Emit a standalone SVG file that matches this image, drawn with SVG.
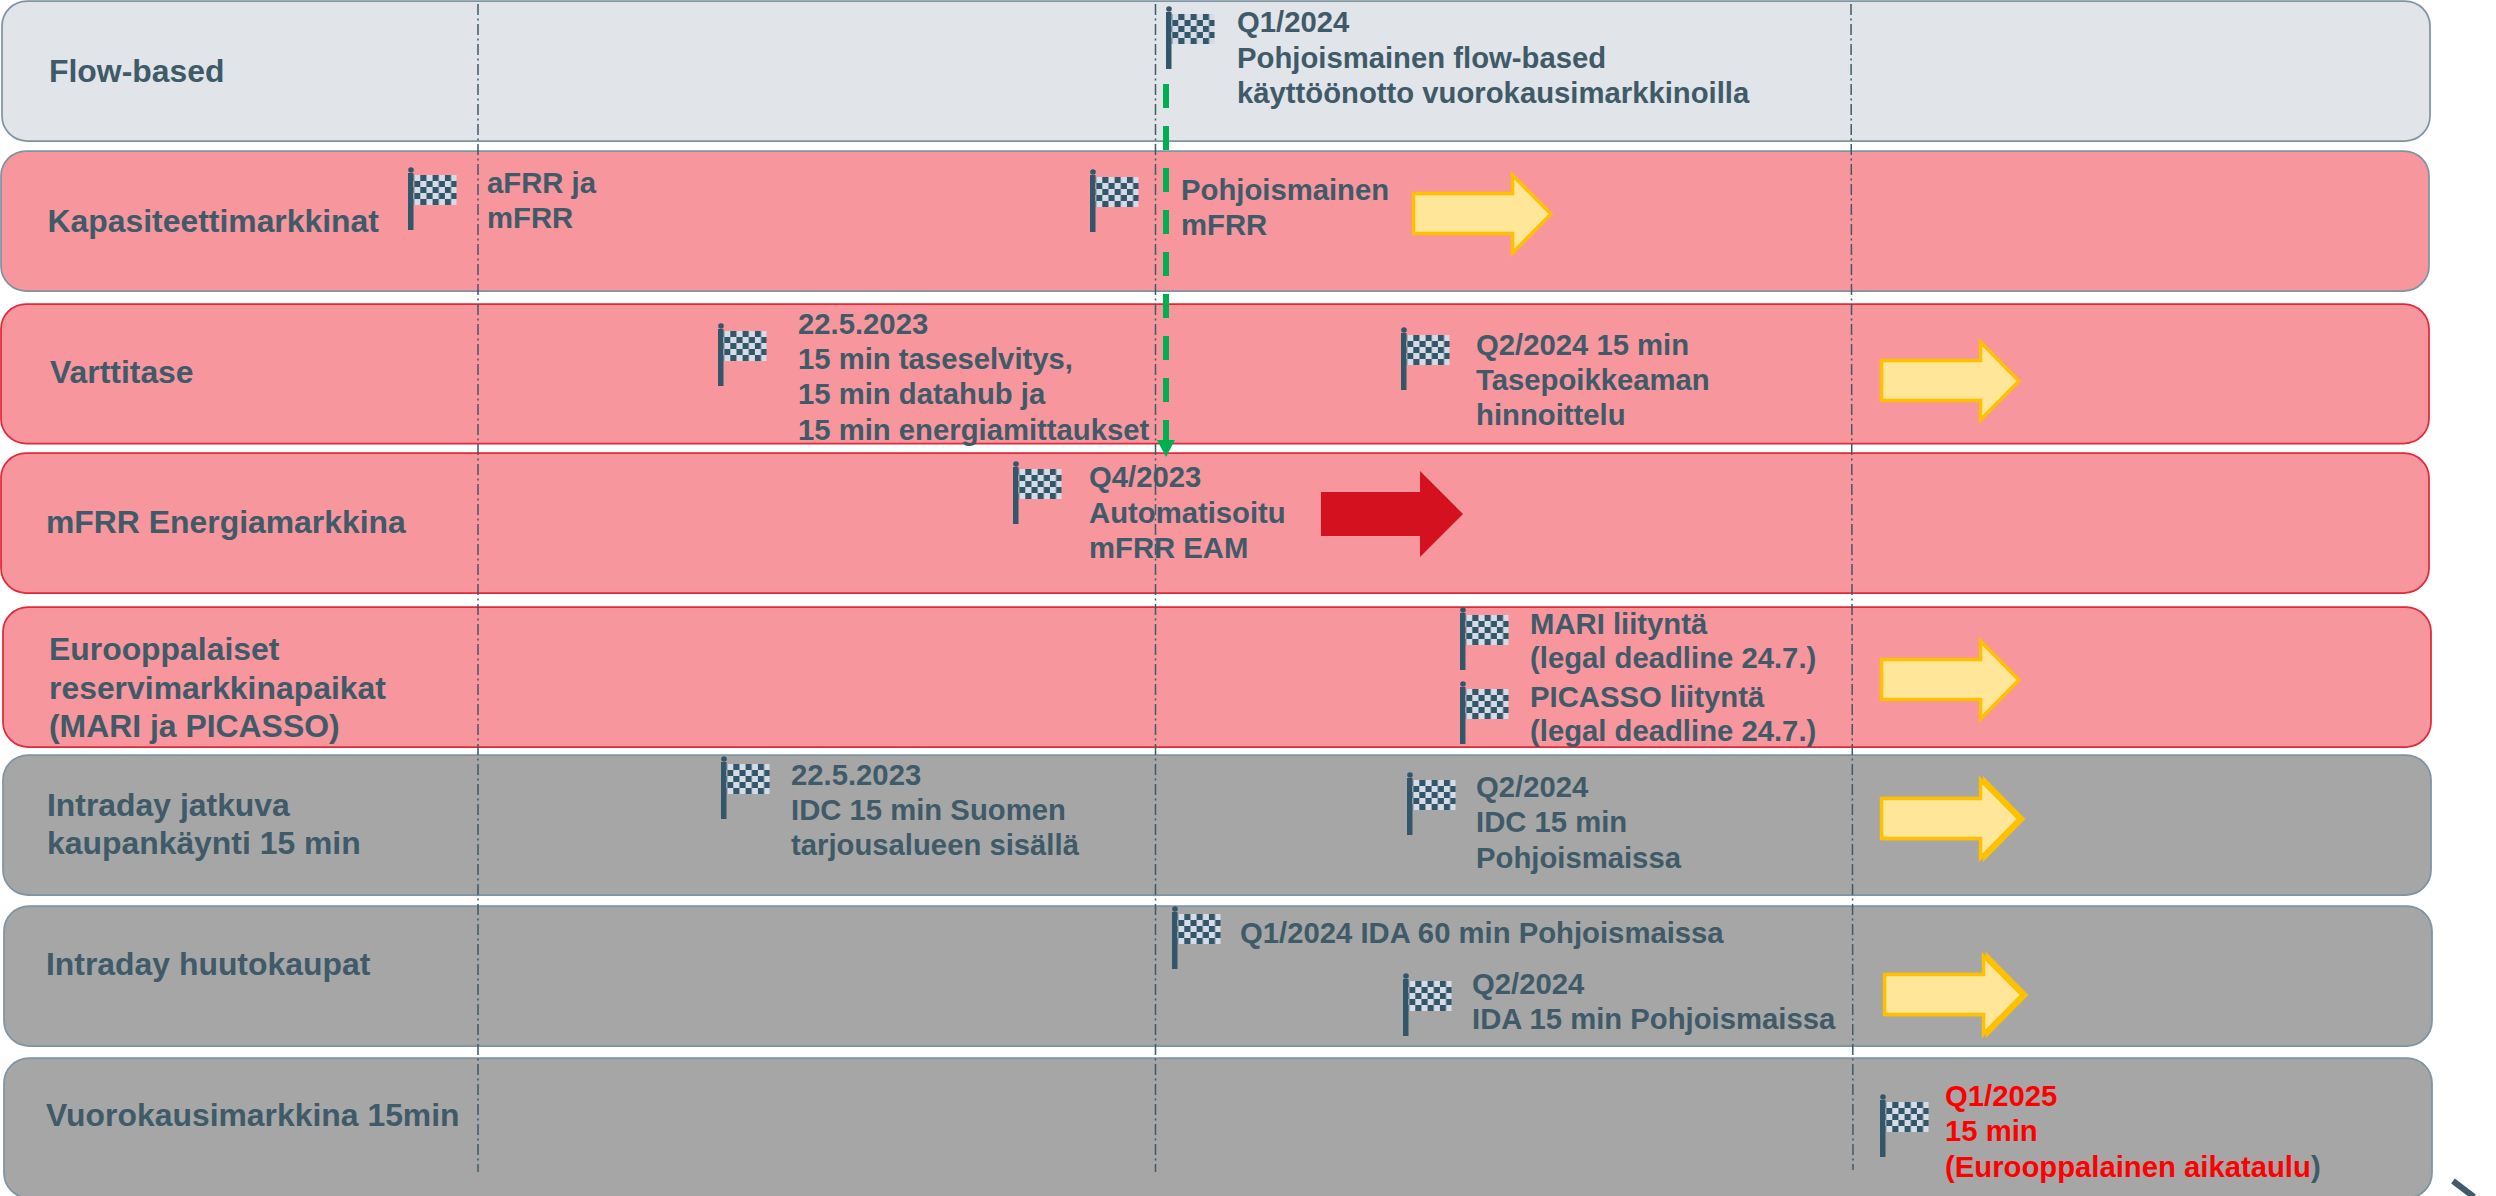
<svg xmlns="http://www.w3.org/2000/svg" xmlns:xlink="http://www.w3.org/1999/xlink" width="2496" height="1196" viewBox="0 0 2496 1196">
<style>
text{font-family:"Liberation Sans",Arial,sans-serif;font-weight:700;fill:#3f5a68}
.l{font-size:31.9px}.t{font-size:29.27px}.r{fill:#ff0000}
.band{stroke-width:1.75}
.g{fill:#e1e5e9;stroke:#7f94a3}.p{fill:#f7969d;stroke:#7f94a3}.pr{fill:#f7969d;stroke:#e3283a}.k{fill:#a6a6a6;stroke:#7f94a3}
.ya{fill:#ffe699;stroke:#ffc000;stroke-width:3.5}
.v{stroke:#3f5a68;stroke-width:1.5;stroke-dasharray:11 3.5 2 3.5;fill:none}
</style>
<defs>
<pattern id="chk" width="12.3" height="12" patternUnits="userSpaceOnUse">
<rect width="12.3" height="12" fill="#d6dce5"/>
<rect width="6.15" height="6" fill="#34566a"/><rect x="6.15" y="6" width="6.15" height="6" fill="#34566a"/>
</pattern>
<g id="flag">
<circle cx="3" cy="-5" r="2.8" fill="#34566a"/>
<rect x="0" y="-2" width="5.5" height="57" fill="#34566a"/>
<rect x="5.5" y="0" width="43" height="30" fill="url(#chk)"/>
</g>
<path id="yarrow" d="M0.5 21.5H99.5V3L138 42L99.5 81V61.5H0.5Z"/>
<marker id="gh" markerUnits="userSpaceOnUse" markerWidth="18" markerHeight="18" refX="17" refY="9" orient="auto"><path d="M0 0L17 9L0 18Z" fill="#00b050"/></marker>
</defs>
<rect width="2496" height="1196" fill="#ffffff"/>
<g id="n1"><rect class="band g" x="2" y="1" width="2428" height="140" rx="25"/><text class="l" x="49" y="82">Flow-based</text>
<use xlink:href="#flag" x="1166" y="14"/><text class="t"><tspan x="1237" y="32">Q1/2024</tspan><tspan x="1237" y="68">Pohjoismainen flow-based</tspan><tspan x="1237" y="103">käyttöönotto vuorokausimarkkinoilla</tspan></text></g>
<g id="n2"><rect class="band p" x="1" y="151" width="2428" height="140" rx="25"/><text class="l" x="47.5" y="232">Kapasiteettimarkkinat</text>
<use xlink:href="#flag" x="408" y="175"/><text class="t"><tspan x="487" y="193">aFRR ja</tspan><tspan x="487" y="228">mFRR</tspan></text>
<use xlink:href="#flag" x="1090" y="177"/><text class="t"><tspan x="1181" y="200">Pohjoismainen</tspan><tspan x="1181" y="235">mFRR</tspan></text>
<use xlink:href="#yarrow" class="ya" x="1413" y="172"/></g>
<g id="n3"><rect class="band pr" x="1" y="304" width="2428" height="139.5" rx="25"/><text class="l" x="50" y="383">Varttitase</text>
<use xlink:href="#flag" x="718" y="331"/><text class="t"><tspan x="798" y="334">22.5.2023</tspan><tspan x="798" y="369">15 min taseselvitys,</tspan><tspan x="798" y="404">15 min datahub ja</tspan><tspan x="798" y="440">15 min energiamittaukset</tspan></text>
<use xlink:href="#flag" x="1401" y="335"/><text class="t"><tspan x="1476" y="355">Q2/2024 15 min</tspan><tspan x="1476" y="390">Tasepoikkeaman</tspan><tspan x="1476" y="425">hinnoittelu</tspan></text>
<use xlink:href="#yarrow" class="ya" x="1881" y="339"/></g>
<g id="n4"><rect class="band pr" x="1" y="453" width="2428" height="140" rx="25"/><text class="l" x="46" y="533">mFRR Energiamarkkina</text>
<use xlink:href="#flag" x="1013" y="469"/><text class="t"><tspan x="1089" y="487">Q4/2023</tspan><tspan x="1089" y="523">Automatisoitu</tspan><tspan x="1089" y="558">mFRR EAM</tspan></text>
<path d="M1321 492H1420V471L1463 514L1420 557V536H1321Z" fill="#d4111e"/></g>
<g id="n5"><rect class="band pr" x="3" y="607" width="2428" height="140" rx="25"/><text class="l"><tspan x="49" y="660">Eurooppalaiset</tspan><tspan x="49" y="699">reservimarkkinapaikat</tspan><tspan x="49" y="737">(MARI ja PICASSO)</tspan></text>
<use xlink:href="#flag" x="1460" y="615"/><text class="t"><tspan x="1530" y="634">MARI liityntä</tspan><tspan x="1530" y="668">(legal deadline 24.7.)</tspan></text>
<use xlink:href="#flag" x="1460" y="689"/><text class="t"><tspan x="1530" y="707">PICASSO liityntä</tspan><tspan x="1530" y="741">(legal deadline 24.7.)</tspan></text>
<use xlink:href="#yarrow" class="ya" x="1881" y="638"/></g>
<g id="n6"><rect class="band k" x="3" y="755" width="2428" height="140" rx="25"/><text class="l"><tspan x="47" y="816">Intraday jatkuva</tspan><tspan x="47" y="854">kaupankäynti 15 min</tspan></text>
<use xlink:href="#flag" x="721" y="764"/><text class="t"><tspan x="791" y="785">22.5.2023</tspan><tspan x="791" y="820">IDC 15 min Suomen</tspan><tspan x="791" y="855">tarjousalueen sisällä</tspan></text>
<use xlink:href="#flag" x="1407" y="780"/><text class="t"><tspan x="1476" y="797">Q2/2024</tspan><tspan x="1476" y="832">IDC 15 min</tspan><tspan x="1476" y="868">Pohjoismaissa</tspan></text>
<use xlink:href="#yarrow" class="ya" x="1885" y="777"/><use xlink:href="#yarrow" class="ya" x="1881" y="777"/></g>
<g id="n7"><rect class="band k" x="4" y="906" width="2428" height="140" rx="25"/><text class="l" x="46" y="975">Intraday huutokaupat</text>
<use xlink:href="#flag" x="1172" y="914"/><text class="t" x="1240" y="943">Q1/2024 IDA 60 min Pohjoismaissa</text>
<use xlink:href="#flag" x="1403" y="981"/><text class="t"><tspan x="1472" y="994">Q2/2024</tspan><tspan x="1472" y="1029">IDA 15 min Pohjoismaissa</tspan></text>
<use xlink:href="#yarrow" class="ya" x="1888" y="953"/><use xlink:href="#yarrow" class="ya" x="1884" y="953"/></g>
<g id="n8"><rect class="band k" x="4" y="1058" width="2428" height="140" rx="25"/><text class="l" x="46" y="1126">Vuorokausimarkkina 15min</text>
<use xlink:href="#flag" x="1880" y="1102"/><text class="t"><tspan class="r" x="1945" y="1106">Q1/2025</tspan><tspan class="r" x="1945" y="1141">15 min</tspan><tspan x="1945" y="1177"><tspan class="r">(Eurooppalainen aikataulu</tspan>)</tspan></text></g>
<g id="connectors">
<path class="v" d="M478 4V1172"/><path class="v" d="M1155.5 4V1172"/><path class="v" d="M1851 4L1853 1170"/>
<path d="M1166 84V457" fill="none" stroke="#00b050" stroke-width="6" stroke-dasharray="24 18" marker-end="url(#gh)"/>
<path d="M2453 1181L2474 1197" fill="none" stroke="#3f5a68" stroke-width="6"/>
</g>
</svg>
